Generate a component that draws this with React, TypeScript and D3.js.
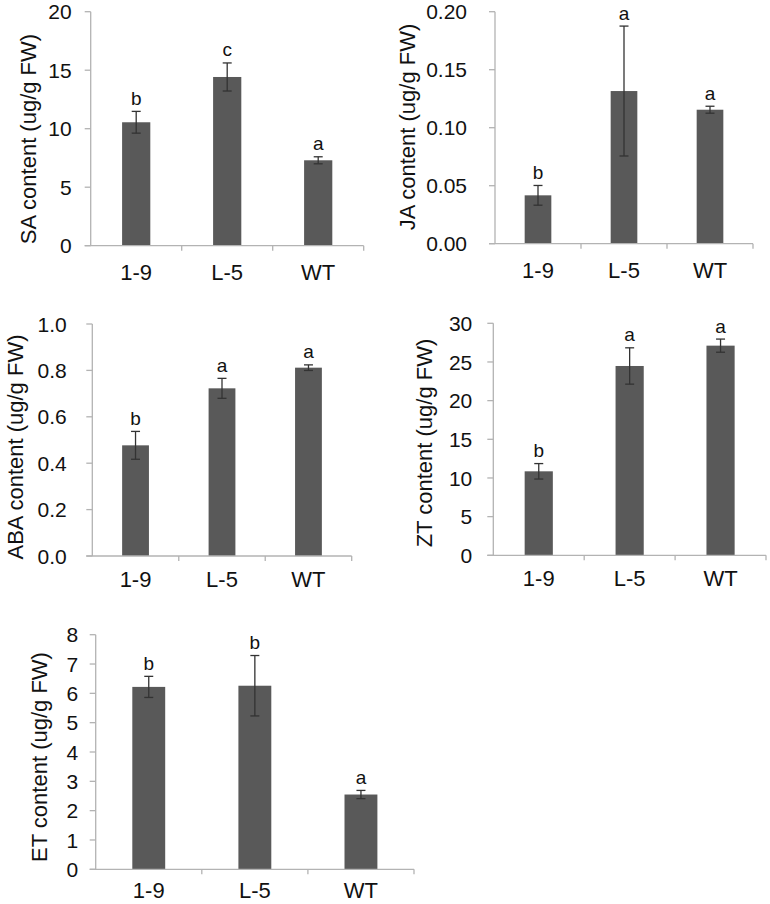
import React from "react";
import * as d3 from "d3";

const categories = ["1-9", "L-5", "WT"];

const saMean = [10.55, 14.42, 7.3];
const saErr = [0.93, 1.2, 0.3];
const saLetters = ["b", "c", "a"];
const saTicks = [0, 5, 10, 15, 20];

const jaMean = [0.0417, 0.1316, 0.1155];
const jaErr = [0.0085, 0.056, 0.003];
const jaLetters = ["b", "a", "a"];
const jaTicks = [0, 0.05, 0.1, 0.15, 0.2];

const abaMean = [0.477, 0.7227, 0.8118];
const abaErr = [0.06, 0.043, 0.012];
const abaLetters = ["b", "a", "a"];
const abaTicks = [0, 0.2, 0.4, 0.6, 0.8, 1.0];

const ztMean = [10.86, 24.48, 27.11];
const ztErr = [1.0, 2.35, 0.85];
const ztLetters = ["b", "a", "a"];
const ztTicks = [0, 5, 10, 15, 20, 25, 30];

const etMean = [6.22, 6.26, 2.55];
const etErr = [0.36, 1.03, 0.14];
const etLetters = ["b", "b", "a"];
const etTicks = [0, 1, 2, 3, 4, 5, 6, 7, 8];

const FONT = "Arial, 'Liberation Sans', Helvetica, sans-serif";
const AXIS = "#b3b3b3";
const BAR = "#595959";
const ERR = "#333333";
const TEXT = "#111111";

type PanelProps = {
  title: string;
  mean: number[];
  err: number[];
  letters: string[];
  ticks: number[];
  fmt: string;
  x0: number;
  x1: number;
  yTop: number;
  yBot: number;
  titleX: number;
  titleY: number;
  labelDy: number;
  tickGap: number;
};

function Panel(p: PanelProps) {
  const max = p.ticks[p.ticks.length - 1];
  const y = d3.scaleLinear().domain([0, max]).range([p.yBot, p.yTop]);
  const x = d3
    .scaleBand<string>()
    .domain(categories)
    .range([p.x0, p.x1])
    .paddingInner(0.69)
    .paddingOuter(0.345);
  const step = x.step();
  const bw = x.bandwidth();
  const f = d3.format(p.fmt);
  const cap = 4.5;
  return (
    <g>
      {categories.map((c, i) => (
        <rect
          key={"b" + c}
          x={x(c)}
          y={y(p.mean[i])}
          width={bw}
          height={p.yBot - y(p.mean[i])}
          fill={BAR}
        />
      ))}
      <line x1={p.x0} x2={p.x0} y1={p.yTop} y2={p.yBot} stroke={AXIS} strokeWidth={1.3} />
      {p.ticks.map((t) => (
        <g key={"t" + t}>
          <line x1={p.x0 - 6} x2={p.x0} y1={y(t)} y2={y(t)} stroke={AXIS} strokeWidth={1.3} />
          <text
            x={p.x0 - p.tickGap}
            y={y(t)}
            dy="0.36em"
            textAnchor="end"
            fontSize={21}
            fontFamily={FONT}
            fill={TEXT}
          >
            {f(t)}
          </text>
        </g>
      ))}
      <line x1={p.x0 - 6} x2={p.x1} y1={p.yBot} y2={p.yBot} stroke={AXIS} strokeWidth={1.3} />
      {categories.map((c, i) => (
        <line
          key={"xt" + c}
          x1={p.x0 + step * (i + 1)}
          x2={p.x0 + step * (i + 1)}
          y1={p.yBot}
          y2={p.yBot + 5}
          stroke={AXIS}
          strokeWidth={1.3}
        />
      ))}
      {categories.map((c) => (
        <text
          key={"xl" + c}
          x={(x(c) as number) + bw / 2}
          y={p.yBot + p.labelDy}
          textAnchor="middle"
          fontSize={22}
          fontFamily={FONT}
          fill={TEXT}
        >
          {c}
        </text>
      ))}
      {categories.map((c, i) => {
        const cx = (x(c) as number) + bw / 2;
        const hi = y(p.mean[i] + p.err[i]);
        const lo = y(p.mean[i] - p.err[i]);
        return (
          <g key={"e" + c}>
            <line x1={cx} x2={cx} y1={hi} y2={lo} stroke={ERR} strokeWidth={1.3} />
            <line x1={cx - cap} x2={cx + cap} y1={hi} y2={hi} stroke={ERR} strokeWidth={1.3} />
            <line x1={cx - cap} x2={cx + cap} y1={lo} y2={lo} stroke={ERR} strokeWidth={1.3} />
            <text
              x={cx}
              y={hi - 6.5}
              textAnchor="middle"
              fontSize={19}
              fontFamily={FONT}
              fill={TEXT}
            >
              {p.letters[i]}
            </text>
          </g>
        );
      })}
      <text
        transform={`translate(${p.titleX},${p.titleY}) rotate(-90)`}
        textAnchor="middle"
        dominantBaseline="central"
        fontSize={22}
        fontFamily={FONT}
        fill={TEXT}
      >
        {p.title}
      </text>
    </g>
  );
}

export default function App() {
  return (
    <svg
      width={770}
      height={904}
      style={{ position: "absolute", left: 0, top: 0, background: "#fff" }}
    >
      <rect width={770} height={904} fill="#fff" />
      <Panel
        title="SA content (ug/g FW)"
        mean={saMean}
        err={saErr}
        letters={saLetters}
        ticks={saTicks}
        fmt="d"
        x0={90.7}
        x1={363.7}
        yTop={11.7}
        yBot={245.7}
        titleX={28}
        titleY={139}
        labelDy={34}
        tickGap={19}
      />
      <Panel
        title="JA content (ug/g FW)"
        mean={jaMean}
        err={jaErr}
        letters={jaLetters}
        ticks={jaTicks}
        fmt=".2f"
        x0={495}
        x1={753}
        yTop={11.7}
        yBot={243.7}
        titleX={407}
        titleY={127}
        labelDy={34}
        tickGap={28}
      />
      <Panel
        title="ABA content (ug/g FW)"
        mean={abaMean}
        err={abaErr}
        letters={abaLetters}
        ticks={abaTicks}
        fmt=".1f"
        x0={92.3}
        x1={351.7}
        yTop={324}
        yBot={556}
        titleX={15}
        titleY={447}
        labelDy={31}
        tickGap={25.5}
      />
      <Panel
        title="ZT content (ug/g FW)"
        mean={ztMean}
        err={ztErr}
        letters={ztLetters}
        ticks={ztTicks}
        fmt="d"
        x0={493.3}
        x1={766}
        yTop={323.3}
        yBot={555.3}
        titleX={424}
        titleY={443}
        labelDy={31}
        tickGap={21}
      />
      <Panel
        title="ET content (ug/g FW)"
        mean={etMean}
        err={etErr}
        letters={etLetters}
        ticks={etTicks}
        fmt="d"
        x0={95.7}
        x1={414}
        yTop={634.7}
        yBot={869.3}
        titleX={39}
        titleY={757}
        labelDy={29}
        tickGap={17.5}
      />
    </svg>
  );
}
